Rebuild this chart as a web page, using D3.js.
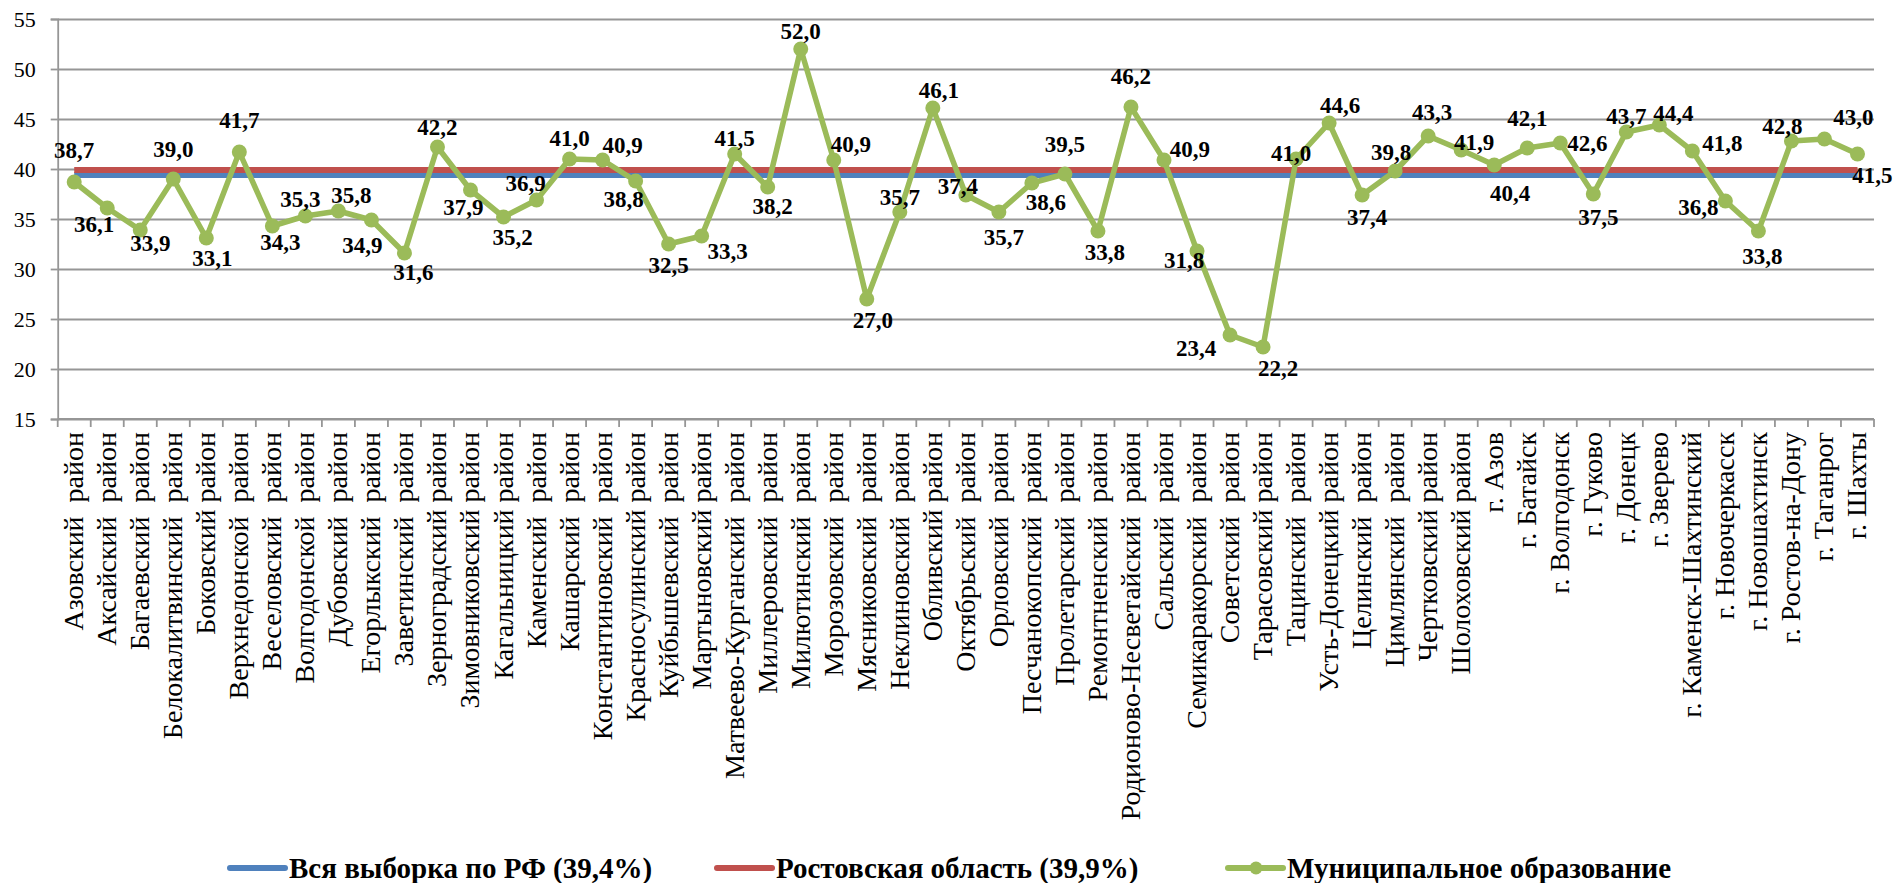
<!DOCTYPE html>
<html>
<head>
<meta charset="utf-8">
<script src="https://cdn.jsdelivr.net/npm/d3@7"></script>
<style>
  html, body { margin: 0; padding: 0; background: #ffffff; }
  svg { display: block; }
</style>
</head>
<body>
<svg id="chart" width="1897" height="883"></svg>
<script>
// ---- data ----
const categories = [
  "Азовский  район", "Аксайский  район", "Багаевский  район", "Белокалитвинский  район",
  "Боковский район", "Верхнедонской  район", "Веселовский  район", "Волгодонской  район",
  "Дубовский  район", "Егорлыкский  район", "Заветинский  район", "Зерноградский район",
  "Зимовниковский район", "Кагальницкий район", "Каменский  район", "Кашарский  район",
  "Константиновский  район", "Красносулинский район", "Куйбышевский  район", "Мартыновский район",
  "Матвеево-Курганский  район", "Миллеровский  район", "Милютинский  район", "Морозовский  район",
  "Мясниковский  район", "Неклиновский  район", "Обливский район", "Октябрьский  район",
  "Орловский  район", "Песчанокопский  район", "Пролетарский  район", "Ремонтненский  район",
  "Родионово-Несветайский  район", "Сальский  район", "Семикаракорский  район", "Советский  район",
  "Тарасовский район", "Тацинский  район", "Усть-Донецкий район", "Целинский  район",
  "Цимлянский  район", "Чертковский район", "Шолоховский район",
  "г. Азов", "г. Батайск", "г. Волгодонск", "г. Гуково", "г. Донецк", "г. Зверево",
  "г. Каменск-Шахтинский", "г. Новочеркасск", "г. Новошахтинск", "г. Ростов-на-Дону",
  "г. Таганрог", "г. Шахты"
];
const municipalValues = [
  38.7, 36.1, 33.9, 39.0, 33.1, 41.7, 34.3, 35.3, 35.8, 34.9, 31.6, 42.2, 37.9, 35.2,
  36.9, 41.0, 40.9, 38.8, 32.5, 33.3, 41.5, 38.2, 52.0, 40.9, 27.0, 35.7, 46.1, 37.4,
  35.7, 38.6, 39.5, 33.8, 46.2, 40.9, 31.8, 23.4, 22.2, 41.0, 44.6, 37.4, 39.8, 43.3,
  41.9, 40.4, 42.1, 42.6, 37.5, 43.7, 44.4, 41.8, 36.8, 33.8, 42.8, 43.0, 41.5
];
const rfValue = 39.4;
const regionValue = 39.9;
const yTicks = [15, 20, 25, 30, 35, 40, 45, 50, 55];
const seriesNames = ["Вся выборка по РФ (39,4%)", "Ростовская область (39,9%)", "Муниципальное образование"];

// ---- layout (label placement offsets relative to each point, in px) ----
const labelOffsets = [
  [0,-32],[-13,16],[10,13],[0,-30],[6,20],[0,-32],[8,16],[-5,-17],[13,-16],[-9,25],
  [9,19],[0,-20],[-7,17],[9,20],[-11,-17],[0,-21],[20,-15],[-12,18],[0,21],[26,15],
  [0,-16],[5,19],[0,-18],[17,-16],[6,21],[0,-15],[6,-18],[-8,-9],[5,25],[14,19],
  [0,-30],[7,21],[0,-31],[26,-11],[-13,9],[-34,13],[15,21],[-5,-6],[11,-18],[5,22],
  [-4,-19],[4,-24],[13,-8],[16,28],[0,-30],[27,0],[5,23],[0,-16],[14,-12],[30,-8],
  [-27,6],[4,25],[-9,-15],[29,-22],[15,21]
];

const FONT = '"Liberation Serif", "Times New Roman", Tinos, serif';
const colors = { rf: "#4F81BD", region: "#C0504D", muni: "#9BBB59", grid: "#969696" };
const L = 57.7, R = 1874, T = 19, B = 419;

const svg = d3.select("#chart");
const x = d3.scaleBand().domain(categories).range([L, R]).padding(0);
const y = d3.scaleLinear().domain([15, 55]).range([B, T]);
const cx = d => x(d) + x.bandwidth() / 2;
const fmt = v => d3.format(".1f")(v).replace(".", ",");

// gridlines
const grid = svg.append("g").attr("transform", `translate(${L},0)`)
  .call(d3.axisLeft(y).tickValues(yTicks).tickSize(-(R - L)).tickFormat(""));
grid.select(".domain").remove();
grid.selectAll("line").attr("stroke", colors.grid).attr("stroke-width", 1.8);

// y axis
const yAxis = svg.append("g").attr("transform", `translate(${L},0)`)
  .call(d3.axisLeft(y).tickValues(yTicks).tickSize(7).tickPadding(15).tickFormat(d3.format("d")));
yAxis.attr("font-family", null).attr("font-size", null);
yAxis.select(".domain").attr("stroke", colors.grid).attr("stroke-width", 1.8);
yAxis.selectAll(".tick line").attr("stroke", colors.grid).attr("stroke-width", 1.8);
yAxis.selectAll("text").style("font-family", FONT).style("font-size", "22px").attr("fill", "#000");

// x axis line and tick marks at band edges
const xAxis = svg.append("g").attr("transform", `translate(0,${B})`);
xAxis.append("line").attr("x1", L).attr("x2", R).attr("y1", 0).attr("y2", 0)
  .attr("stroke", colors.grid).attr("stroke-width", 1.8);
const edges = categories.map(c => x(c)).concat([x.range()[1]]);
xAxis.selectAll("line.tk").data(edges).enter().append("line").attr("class", "tk")
  .attr("x1", d => d).attr("x2", d => d).attr("y1", 0).attr("y2", 8)
  .attr("stroke", colors.grid).attr("stroke-width", 1.8);
xAxis.selectAll("text").data(categories).enter().append("text")
  .attr("transform", d => `translate(${cx(d) + 9},13) rotate(-90)`)
  .attr("text-anchor", "end")
  .style("font-family", FONT).style("font-size", "28px")
  .style("white-space", "pre")
  .attr("fill", "#000")
  .text(d => d);

// reference lines
const flat = v => d3.line().x(d => cx(d)).y(() => y(v));
svg.append("path").datum(categories).attr("d", flat(rfValue))
  .attr("fill", "none").attr("stroke", colors.rf).attr("stroke-width", 6);
svg.append("path").datum(categories).attr("d", flat(regionValue))
  .attr("fill", "none").attr("stroke", colors.region).attr("stroke-width", 6);

// municipal line
const muni = categories.map((c, i) => ({ c, v: municipalValues[i], o: labelOffsets[i] }));
svg.append("path").datum(muni)
  .attr("d", d3.line().x(d => cx(d.c)).y(d => y(d.v)))
  .attr("fill", "none").attr("stroke", colors.muni).attr("stroke-width", 5.5)
  .attr("stroke-linejoin", "round");
svg.selectAll("circle.pt").data(muni).enter().append("circle").attr("class", "pt")
  .attr("cx", d => cx(d.c)).attr("cy", d => y(d.v)).attr("r", 7.5)
  .attr("fill", colors.muni);

// data labels
svg.selectAll("text.lbl").data(muni).enter().append("text").attr("class", "lbl")
  .attr("x", d => cx(d.c) + d.o[0]).attr("y", d => y(d.v) + d.o[1])
  .attr("dy", "0.35em").attr("text-anchor", "middle")
  .style("font-family", FONT).style("font-size", "23px").style("font-weight", "bold")
  .attr("fill", "#000")
  .text(d => fmt(d.v));

// legend
const legendY = 868;
const legendItems = [
  { name: seriesNames[0], color: colors.rf, x: 230, marker: false },
  { name: seriesNames[1], color: colors.region, x: 717, marker: false },
  { name: seriesNames[2], color: colors.muni, x: 1228, marker: true }
];
const lg = svg.append("g");
legendItems.forEach(it => {
  lg.append("line").attr("x1", it.x).attr("x2", it.x + 55).attr("y1", legendY).attr("y2", legendY)
    .attr("stroke", it.color).attr("stroke-width", 6).attr("stroke-linecap", "round");
  if (it.marker) lg.append("circle").attr("cx", it.x + 28).attr("cy", legendY).attr("r", 6.5).attr("fill", it.color);
  lg.append("text").attr("x", it.x + 59).attr("y", legendY).attr("dy", "0.35em")
    .style("font-family", FONT).style("font-size", "29px").style("font-weight", "bold")
    .attr("fill", "#000").text(it.name);
});
</script>
</body>
</html>
